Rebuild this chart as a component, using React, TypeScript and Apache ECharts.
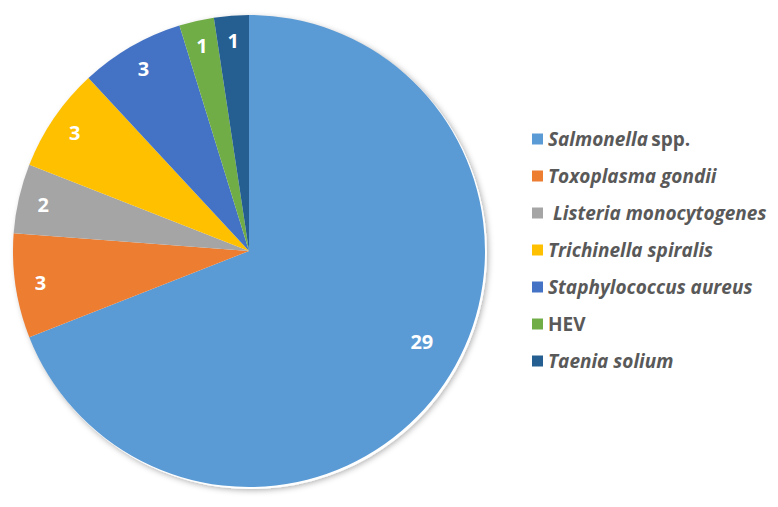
import React, { useEffect, useRef } from "react";
import * as echarts from "echarts";

const categories = [
  "Salmonella spp.",
  "Toxoplasma gondii",
  " Listeria monocytogenes",
  "Trichinella spiralis",
  "Staphylococcus aureus",
  "HEV",
  "Taenia solium",
];
const values = [29, 3, 2, 3, 3, 1, 1];
const colors = ["#5B9BD5", "#ED7D31", "#A5A5A5", "#FFC000", "#4472C4", "#70AD47", "#255E91"];

export default function App() {
  const ref = useRef<HTMLDivElement>(null);
  useEffect(() => {
    if (!ref.current) return;
    const chart = echarts.init(ref.current, undefined, { renderer: "svg" });
    const data = categories.map((c, i) => ({ name: c, value: values[i], itemStyle: { color: colors[i] } }));
    const total = values.reduce((a, b) => a + b, 0);
    const labelStyle = {
      show: true,
      position: "inside",
      formatter: "{c}",
      color: "#ffffff",
      fontFamily: "Open Sans",
      fontWeight: "bold",
      fontSize: 20,
    };
    chart.setOption({
      animation: false,
      backgroundColor: "#ffffff",
      legend: {
        orient: "vertical",
        left: 527,
        top: 123,
        itemWidth: 11,
        itemHeight: 11,
        itemGap: 15,
        icon: "rect",
        data: categories,
        formatter: (name: string) => {
          if (name === "Salmonella spp.") return "{i|Salmonella} {n|spp.}";
          if (name === "HEV") return "{n|HEV}";
          return "{i|" + name + "}";
        },
        textStyle: {
          lineHeight: 22,
          rich: {
            i: { fontFamily: "Open Sans", fontStyle: "italic", fontWeight: "bold", fontSize: 19, color: "#595959", lineHeight: 22 },
            n: { fontFamily: "Open Sans", fontWeight: "bold", fontSize: 19, color: "#595959", lineHeight: 22 },
          },
        },
      },
      series: [
        {
          type: "pie",
          silent: true,
          center: [251, 253],
          radius: [0, 236],
          z: 1,
          label: { show: false },
          labelLine: { show: false },
          itemStyle: { color: "#ffffff", shadowBlur: 6, shadowColor: "rgba(0,0,0,0.35)", shadowOffsetX: 1, shadowOffsetY: 1 },
          data: [{ name: "__bg", value: total }],
        },
        {
          type: "pie",
          center: [249, 251],
          radius: [0, 236],
          startAngle: 90,
          clockwise: true,
          z: 2,
          label: { show: false },
          labelLine: { show: false },
          itemStyle: { borderWidth: 0 },
          data,
        },
        {
          type: "pie",
          silent: true,
          center: [249, 251],
          radius: [176, 240],
          startAngle: 90,
          clockwise: true,
          z: 3,
          itemStyle: { color: "transparent", borderWidth: 0 },
          label: labelStyle,
          labelLine: { show: false },
          data: categories.map((c, i) => ({ name: c, value: values[i], label: { show: i !== 0 } })),
        },
        {
          type: "pie",
          silent: true,
          center: [249, 251],
          radius: [150, 234],
          startAngle: 96.7,
          clockwise: true,
          z: 3,
          itemStyle: { color: "transparent", borderWidth: 0 },
          label: labelStyle,
          labelLine: { show: false },
          data: categories.map((c, i) => ({ name: c, value: values[i], label: { show: i === 0 } })),
        },
      ],
    });
    return () => chart.dispose();
  }, []);
  return <div ref={ref} style={{ position: "fixed", left: 0, top: 0, width: 778, height: 507 }} />;
}
